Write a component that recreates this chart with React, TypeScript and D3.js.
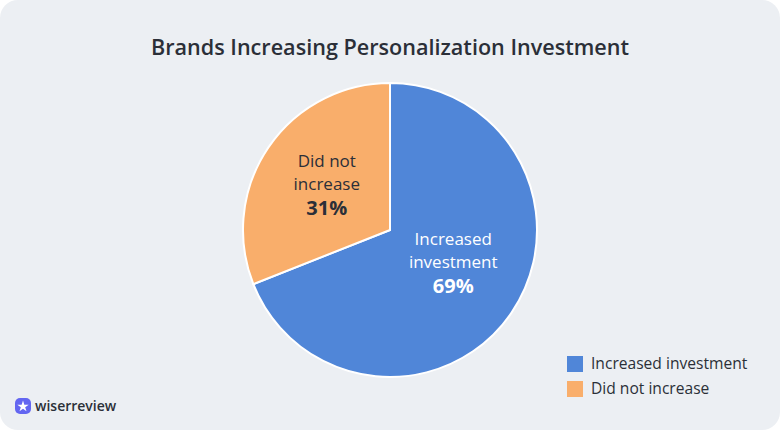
import * as d3 from 'd3';

const categories = ['Increased investment', 'Did not increase'];
const labelLines = [['Increased', 'investment'], ['Did not', 'increase']];
const values = [69, 31];
const colors = ['#5086d8', '#f9ae6b'];
const textColors = ['#ffffff', '#2b2f38'];

const width = 780;
const height = 430;

export default function App() {
  const cx = 390;
  const cy = 230;
  const radius = 147;

  const pie = d3
    .pie<number>()
    .sort(null)
    .value((d) => d);
  const arcs = pie(values);

  const arc = d3.arc<d3.PieArcDatum<number>>().innerRadius(0).outerRadius(radius);
  const labelArc = d3
    .arc<d3.PieArcDatum<number>>()
    .innerRadius(radius * 0.52)
    .outerRadius(radius * 0.52);

  const font = "'Open Sans', 'Noto Sans', sans-serif";

  return (
    <div style={{ position: 'absolute', left: 0, top: 0 }}>
      <svg width={width} height={height} style={{ display: 'block' }}>
        <rect width={width} height={height} fill="#ffffff" />
        <rect x={0} y={0} width={width} height={height} rx={18} fill="#eceff3" />
        <text
          x={width / 2}
          y={55}
          textAnchor="middle"
          fontFamily={font}
          fontSize={21.6}
          fontWeight={600}
          fill="#2b2f38"
        >
          Brands Increasing Personalization Investment
        </text>
        <g transform={`translate(${cx},${cy})`}>
          {arcs.map((a, i) => (
            <path key={i} d={arc(a) ?? ''} fill={colors[i]} stroke="#ffffff" strokeWidth={2} />
          ))}
          {arcs.map((a, i) => {
            const [lx, ly] = labelArc.centroid(a);
            const yAdj = i === 0 ? -11 : -3;
            return (
              <text
                key={i}
                textAnchor="middle"
                fontFamily={font}
                fill={textColors[i]}
                transform={`translate(${lx},${ly + yAdj})`}
              >
                <tspan x={0} y={-23} fontSize={17} dy="0.35em">
                  {labelLines[i][0]}
                </tspan>
                <tspan x={0} y={0} fontSize={17} dy="0.35em">
                  {labelLines[i][1]}
                </tspan>
                <tspan x={0} y={24} fontSize={20} fontWeight={700} dy="0.35em">
                  {values[i]}%
                </tspan>
              </text>
            );
          })}
        </g>
        <g transform="translate(567,356)">
          {categories.map((c, i) => (
            <g key={c} transform={`translate(0,${i * 25})`}>
              <rect width={16} height={16} fill={colors[i]} />
              <text x={24} y={8} dy="0.35em" fontFamily={font} fontSize={15.6} fill="#2b2f38">
                {c}
              </text>
            </g>
          ))}
        </g>
        <g transform="translate(15,398)">
          <rect width={16} height={16} rx={5} fill="#6366f1" />
          <path
            d={d3.symbol(d3.symbolStar, 40)() ?? ''}
            transform="translate(8,8.5)"
            fill="#ffffff"
          />
          <text x={20} y={8} dy="0.35em" fontFamily={font} fontSize={14} fontWeight={600} fill="#2b2f38">
            wiserreview
          </text>
        </g>
      </svg>
    </div>
  );
}
